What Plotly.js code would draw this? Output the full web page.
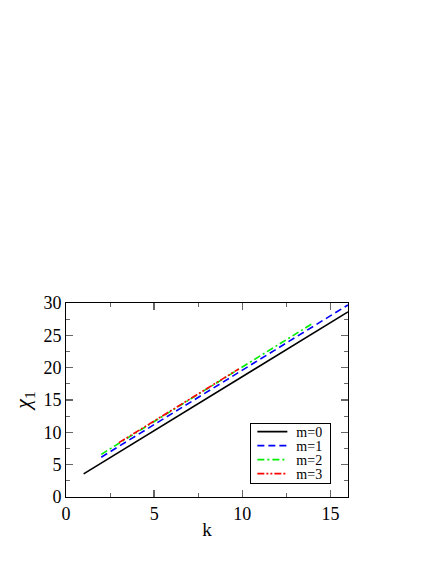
<!DOCTYPE html>
<html>
<head>
<meta charset="utf-8">
<script src="https://cdn.plot.ly/plotly-3.0.1.min.js"></script>
<style>
  html, body { margin:0; padding:0; background:#fff; }
  #plot { width:436px; height:564px; }
</style>
</head>
<body>
<div id="plot"></div>
<script>
// k values and chi_1 readings for each m
var k_m0 = [1,2,3,4,5,6,7,8,9,10,11,12,13,14,15,16];
var chi_m0 = [3.57,5.24,6.92,8.59,10.26,11.94,13.61,15.28,16.95,18.63,20.30,21.97,23.65,25.32,26.99,28.62];

var k_m1 = [2,3,4,5,6,7,8,9,10,11,12,13,14,15,16];
var chi_m1 = [6.15,7.83,9.51,11.19,12.87,14.55,16.23,17.91,19.59,21.27,22.95,24.63,26.31,27.99,29.70];

var k_m2 = [2,3,4,5,6,7,8,9,10,11,12,13,14];
var chi_m2 = [6.60,8.28,9.96,11.64,13.32,15.00,16.68,18.36,20.04,21.72,23.40,25.08,26.85];

var k_m3 = [3,4,5,6,7,8,9,9.8];
var chi_m3 = [8.40,10.06,11.74,13.42,15.10,16.78,18.46,19.80];

var names = ['m=0','m=1','m=2','m=3'];

var serif = "'Liberation Serif', 'Times New Roman', serif";

var data = [
  {x:k_m0, y:chi_m0, name:names[0], mode:'lines', line:{color:'#000000', width:1.6}},
  {x:k_m1, y:chi_m1, name:names[1], mode:'lines', line:{color:'#0000ff', width:1.6, dash:'7px,4px'}},
  {x:k_m2, y:chi_m2, name:names[2], mode:'lines', line:{color:'#00ee00', width:1.6, dash:'7px,3px,2px,3px'}},
  {x:k_m3, y:chi_m3, name:names[3], mode:'lines', line:{color:'#ff0000', width:1.6, dash:'7px,2px,2px,2px,2px,2px'}}
];

var axis_common = {
  showgrid:false, zeroline:false, showline:true, linecolor:'#000', linewidth:1,
  mirror:'ticks', ticks:'inside', ticklen:7, tickcolor:'#666', tickwidth:1.5,
  tickfont:{family:serif, size:18, color:'#000'}
};

var layout = {
  width:436, height:564,
  paper_bgcolor:'#fff', plot_bgcolor:'#fff',
  margin:{l:66, r:88, t:303, b:67},
  showlegend:true,
  legend:{x:0.941, y:0.069, xanchor:'right', yanchor:'bottom',
          bordercolor:'#000', borderwidth:1, bgcolor:'#fff',
          font:{family:serif, size:14, color:'#000'}, tracegroupgap:0},
  xaxis:Object.assign({}, axis_common, {
    range:[0,16], dtick:5, tick0:0,
    minor:{dtick:2.5, ticks:'inside', ticklen:4, tickcolor:'#666', tickwidth:1},
    title:{text:'k', font:{family:serif, size:19, color:'#000'}, standoff:0}
  }),
  yaxis:Object.assign({}, axis_common, {
    range:[0,30], dtick:5, tick0:0,
    minor:{dtick:2.5, ticks:'inside', ticklen:4, tickcolor:'#666', tickwidth:1},
    title:{text:'<i>χ</i><sub>1</sub>', font:{family:serif, size:22, color:'#000'}, standoff:6}
  })
};

var gd = document.getElementById('plot');
Plotly.newPlot(gd, data, layout, {displayModeBar:false, staticPlot:true}).then(function(){
  // tighten legend rows like the original figure
  var leg = gd.querySelector('g.legend');
  if (!leg) return;
  var bg = leg.querySelector('rect.bg');
  var items = leg.querySelectorAll('g.traces');
  var step = 14, newH = step*items.length + 4, newW = 80;
  var m = /translate\(([-\d.]+),\s*([-\d.]+)\)/.exec(leg.getAttribute('transform'));
  var oldH = parseFloat(bg.getAttribute('height'));
  var oldW = parseFloat(bg.getAttribute('width'));
  var lx = parseFloat(m[1]) + oldW - newW, ly = parseFloat(m[2]) + oldH - newH;
  leg.setAttribute('transform', 'translate(' + lx + ',' + ly + ')');
  bg.setAttribute('height', newH);
  bg.setAttribute('width', newW);
  items.forEach(function(t, i){
    t.setAttribute('transform', 'translate(2,' + (2 + step*i + step/2) + ')');
    var txt = t.querySelector('text.legendtext');
    if (txt) txt.setAttribute('x', 44);
  });
});
</script>
</body>
</html>
